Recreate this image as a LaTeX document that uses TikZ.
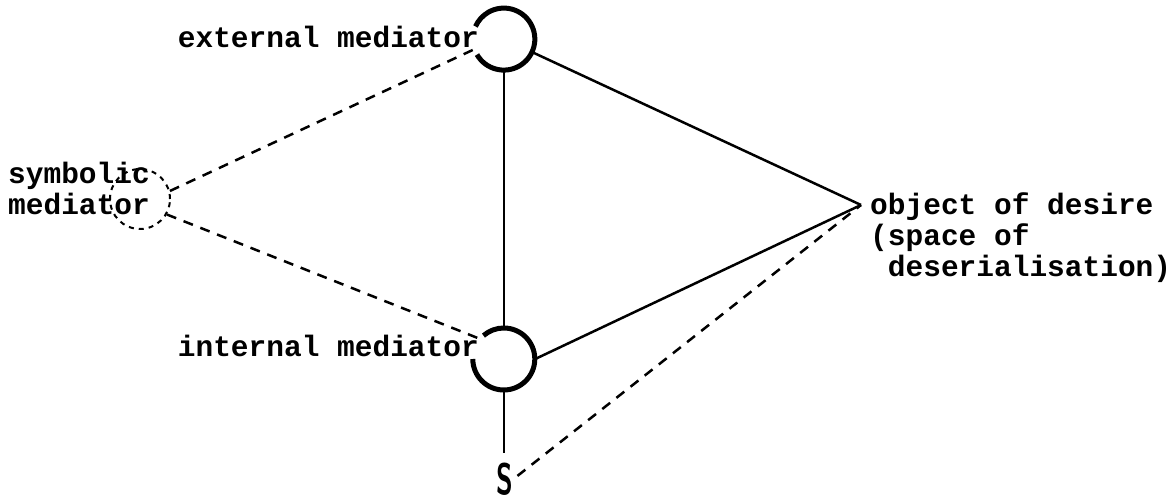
\documentclass[tikz,border=0pt]{standalone}
\usepackage{fontspec}
\setmonofont{Liberation Mono}
\usepackage{graphicx}
\usetikzlibrary{positioning}

\begin{document}
\begin{tikzpicture}[
    x=1pt, y=1pt,
    every node/.style={font=\ttfamily\bfseries\fontsize{29.5}{31}\selectfont},
    mediator/.style={circle, minimum size=62pt, inner sep=0pt},
    symbolic/.style={circle, minimum size=60pt, inner sep=0pt, draw, line width=2pt, dash pattern=on 5pt off 5pt},
    lbl/.style={inner sep=0pt, align=left},
    ring/.style={line width=5pt},
    link/.style={line width=2.5pt},
    hint/.style={line width=2.5pt, dash pattern=on 10pt off 8pt}
]
\useasboundingbox (0,0) rectangle (1172,503);

% ============== MEDIADORES ==============
\node[mediator] (ext) at (504,464) {};
\node[mediator] (int) at (504,144) {};
\node[symbolic] (sym) at (140,304) {};
\coordinate (obj) at (861,298);
\node[inner sep=0pt] (s) at (505,24) {\sffamily\fontsize{44}{44}\selectfont\scalebox{0.62}[1]{S}};

% ============== TEXTOS ==============
\node[lbl, anchor=base east] (exttext) at (479,455) {external mediator};
\node[lbl, anchor=base east] (inttext) at (479,146) {internal mediator};
\node[lbl, anchor=north west] (symtext) at (8,341) {symbolic\\mediator};
\node[lbl, anchor=north west] (objtext) at (870,311) {object of desire\\(space of\\\hspace*{0.6em}deserialisation)};

% ============== ANILLOS ==============
\draw[ring] (ext.-150) arc[start angle=-150, end angle=156, radius=31pt];
\draw[ring] (int.180) arc[start angle=-180, end angle=131, radius=31pt];

% ============== LINEAS ==============
\draw[link] (ext.south) -- (int.north);
\draw[link, shorten >=10pt] (int.south) -- (int.south |- s.north);
\draw[link] (ext.-25) -- (obj);
\draw[link] (int.east) -- (obj);

% ============== DISCONTINUAS ==============
\draw[hint, shorten <=5pt] (s.east) -- (obj);
\draw[hint] (sym.15) -- (ext.199);
\draw[hint] (sym.-30) -- (int.140);
\end{tikzpicture}
\end{document}
